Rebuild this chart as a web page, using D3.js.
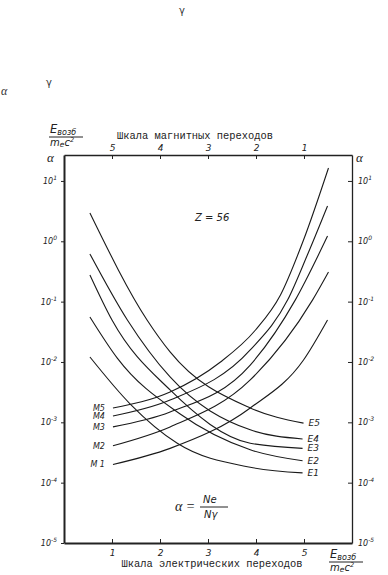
<!DOCTYPE html>
<html>
<head>
<meta charset="utf-8">
<script src="https://cdn.jsdelivr.net/npm/d3@7"></script>
<style>
body{margin:0;background:#fff}
svg{display:block}
.num{font-family:"DejaVu Sans",sans-serif;font-style:italic;font-size:8px;fill:#222}
.cyr{font-family:"Liberation Mono",monospace;font-size:10.4px;fill:#222}
.lbl{font-family:"DejaVu Sans",sans-serif;font-style:italic;font-size:9px;fill:#222}
.curve{fill:none;stroke:#1a1a1a;stroke-width:1.1}
</style>
</head>
<body>
<svg id="chart"></svg>
<script>
/* ticks */
const elecTicks=[1,2,3,4,5]
const magnTicks=[5,4,3,2,1]
const alphaTicks=[1e1,1e0,1e-1,1e-2,1e-3,1e-4,1e-5]

/* curves: [E_exc (m_e c^2), alpha] */
const e1=[[0.54,0.0121],[1.38,0.00201],[2.36,0.00045],[3.88,0.00018],[4.97,0.000145]]
const e2=[[0.54,0.0557],[1.11,0.0116],[2.42,0.00137],[3.88,0.00035],[4.97,0.00023]]
const e3=[[0.54,0.277],[1.00,0.0497],[2.21,0.00344],[3.88,0.00045],[4.97,0.00037]]
const e4=[[0.54,0.617],[1.32,0.0497],[2.21,0.00564],[3.88,0.00075],[4.97,0.00053]]
const e5=[[0.54,2.95],[1.73,0.0497],[2.21,0.0147],[3.88,0.00173],[4.99,0.00097]]

const m1=[[1.02,0.00020],[2.21,0.00037],[3.88,0.00173],[4.99,0.0108],[5.49,0.0497]]
const m2=[[1.02,0.00041],[2.21,0.00084],[3.88,0.00504],[5.18,0.107],[5.51,0.310]]
const m3=[[1.02,0.00084],[2.21,0.00148],[3.88,0.0089],[4.82,0.107],[5.49,1.22]]
const m4=[[1.02,0.00127],[2.21,0.00234],[3.88,0.0158],[4.66,0.107],[5.07,0.593],[5.49,3.85]]
const m5=[[1.02,0.00173],[2.21,0.00318],[3.26,0.0100],[3.99,0.0339],[4.51,0.129],[4.99,1.05],[5.51,16.4]]

const eNames=['E1','E2','E3','E4','E5']
const mNames=['M 1','M2','M3','M4','M5']

const width=388, height=575
const margin={top:155,right:36,bottom:32,left:64}

const svg=d3.select('#chart').attr('width',width).attr('height',height)

const xScale=d3.scaleLinear().domain([0,6]).range([margin.left,width-margin.right])
const xTop=d3.scaleLinear().domain([6,0]).range([margin.left,width-margin.right])
const yScale=d3.scaleLog().domain([1e-5,Math.pow(10,1.43)]).range([height-margin.bottom,margin.top])

/* exponent labels 10^n */
const powLabel=(sel)=>{
    sel.selectAll('.tick text').each(function(d){
        const t=d3.select(this).text(null).attr('class','num')
        t.append('tspan').text('10')
        t.append('tspan').attr('dy','-4').style('font-size','6px').text(Math.round(Math.log10(d)))
    })
}

/* axes */
const leftAxis=svg.append('g')
    .attr('transform','translate('+margin.left+',0)')
    .call(d3.axisLeft(yScale).tickValues(alphaTicks).tickSizeInner(3).tickSizeOuter(0).tickPadding(4))
leftAxis.call(powLabel)
leftAxis.select('.domain').attr('stroke-width',2)

const rightAxis=svg.append('g')
    .attr('transform','translate('+(width-margin.right)+',0)')
    .call(d3.axisRight(yScale).tickValues(alphaTicks).tickSizeInner(-4).tickSizeOuter(0).tickPadding(6))
rightAxis.call(powLabel)
rightAxis.select('.domain').attr('stroke-width',1.3)

const bottomAxis=svg.append('g')
    .attr('transform','translate(0,'+(height-margin.bottom)+')')
    .call(d3.axisBottom(xScale).tickValues(elecTicks).tickFormat(d3.format('d'))
        .tickSizeInner(-4).tickSizeOuter(0).tickPadding(7))
bottomAxis.selectAll('.tick text').attr('class','num').style('font-size','9px')
bottomAxis.select('.domain').attr('stroke-width',2)

const topAxis=svg.append('g')
    .attr('transform','translate(0,'+margin.top+')')
    .call(d3.axisTop(xTop).tickValues(magnTicks).tickFormat(d3.format('d'))
        .tickSizeInner(-4).tickSizeOuter(0).tickPadding(4))
topAxis.selectAll('.tick text').attr('class','num').style('font-size','9px')
topAxis.select('.domain').attr('stroke-width',1.3)

svg.selectAll('.tick line').attr('stroke','#222')
svg.selectAll('.domain').attr('stroke','#222')

/* curves */
const line=d3.line()
    .x(d=>xScale(d[0]))
    .y(d=>yScale(d[1]))
    .curve(d3.curveMonotoneX)

const eSeries=[e1,e2,e3,e4,e5]
const mSeries=[m1,m2,m3,m4,m5]

svg.selectAll('.ecurve').data(eSeries).enter().append('path')
    .attr('class','curve').attr('d',line)
svg.selectAll('.mcurve').data(mSeries).enter().append('path')
    .attr('class','curve').attr('d',line)

/* curve names */
eSeries.forEach((s,i)=>{
    const p=s[s.length-1]
    svg.append('text').attr('class','lbl')
        .attr('x',xScale(p[0])+5).attr('y',yScale(p[1])+3)
        .text(eNames[i])
})
mSeries.forEach((s,i)=>{
    const p=s[0]
    svg.append('text').attr('class','lbl')
        .attr('text-anchor','end').style('font-size','8px')
        .attr('x',xScale(p[0])-8).attr('y',yScale(p[1])+3)
        .text(mNames[i])
})

/* axis titles */
svg.append('text').attr('class','cyr')
    .attr('x',195).attr('y',139).attr('text-anchor','middle')
    .text('Шкала магнитных переходов')
svg.append('text').attr('class','cyr')
    .attr('x',212).attr('y',567).attr('text-anchor','middle')
    .text('Шкала электрических переходов')

/* E_возб / m_e c^2 fractions */
const energyFrac=(x,y)=>{
    const g=svg.append('g').attr('transform','translate('+x+','+y+')')
    const num=g.append('text').attr('class','lbl').attr('x',1).attr('y',0).style('font-size','11.5px')
    num.append('tspan').text('E')
    num.append('tspan').attr('dy','1.5').style('font-size','8px').text('возб')
    g.append('line').attr('x1',0).attr('x2',34).attr('y1',4).attr('y2',4)
        .attr('stroke','#222').attr('stroke-width',1)
    const den=g.append('text').attr('class','lbl').attr('x',1).attr('y',13).style('font-size','10px')
    den.append('tspan').text('m')
    den.append('tspan').attr('dy','1').style('font-size','7.5px').text('e')
    den.append('tspan').attr('dy','-1').text('c')
    den.append('tspan').attr('dy','-4').style('font-size','6.5px').text('2')
}
energyFrac(49,133)
energyFrac(329,558)

/* alpha symbols */
svg.append('text').attr('class','lbl').attr('x',47).attr('y',162)
    .style('font-family','"Liberation Serif",serif').style('font-size','13px').text('α')
svg.append('text').attr('class','lbl').attr('x',356).attr('y',162)
    .style('font-family','"Liberation Serif",serif').style('font-size','13px').text('α')

svg.append('text').attr('class','lbl').attr('x',195).attr('y',221)
    .style('font-size','10px').text('Z = 56')

/* formula alpha = Ne / N gamma */
svg.append('text').attr('class','lbl').attr('x',175).attr('y',511)
    .style('font-family','"Liberation Serif",serif').style('font-size','14px').text('α =')
svg.append('text').attr('class','lbl').attr('x',203).attr('y',503)
    .style('font-size','10px').text('Ne')
svg.append('line').attr('x1',200).attr('x2',228).attr('y1',507).attr('y2',507)
    .attr('stroke','#222').attr('stroke-width',1)
svg.append('text').attr('class','lbl').attr('x',204).attr('y',518)
    .style('font-size','10px').text('Nγ')

/* leftover glyphs above the figure */
svg.append('text').attr('x',179).attr('y',14)
    .style('font-family','"DejaVu Sans",sans-serif').style('font-size','10px').style('fill','#333').text('γ')
svg.append('text').attr('x',46).attr('y',86)
    .style('font-family','"DejaVu Sans",sans-serif').style('font-size','10px').style('fill','#333').text('γ')
svg.append('text').attr('x',1).attr('y',95)
    .style('font-family','"Liberation Serif",serif').style('font-style','italic').style('font-size','12px').style('fill','#333').text('α')
</script>
</body>
</html>
